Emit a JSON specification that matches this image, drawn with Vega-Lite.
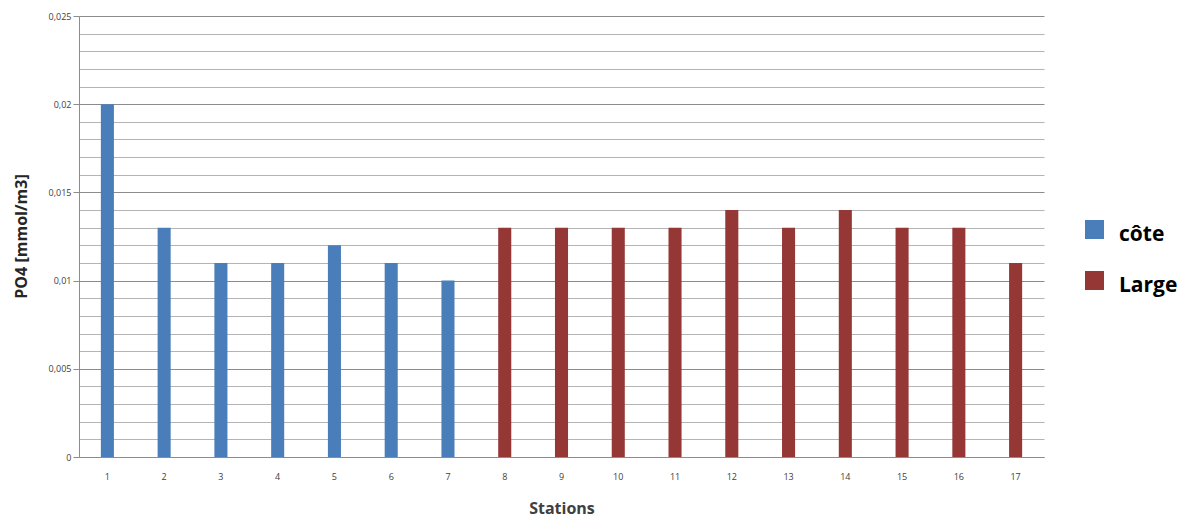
{
  "$schema": "https://vega.github.io/schema/vega-lite/v6.json",
  "width": 965,
  "height": 441,
  "autosize": {"type": "none"},
  "padding": {"left": 79, "top": 16, "right": 143, "bottom": 64},
  "background": "white",
  "data": {
    "values": [
      {"station": 1, "po4": 0.020, "zone": "côte"},
      {"station": 2, "po4": 0.013, "zone": "côte"},
      {"station": 3, "po4": 0.011, "zone": "côte"},
      {"station": 4, "po4": 0.011, "zone": "côte"},
      {"station": 5, "po4": 0.012, "zone": "côte"},
      {"station": 6, "po4": 0.011, "zone": "côte"},
      {"station": 7, "po4": 0.010, "zone": "côte"},
      {"station": 8, "po4": 0.013, "zone": "Large"},
      {"station": 9, "po4": 0.013, "zone": "Large"},
      {"station": 10, "po4": 0.013, "zone": "Large"},
      {"station": 11, "po4": 0.013, "zone": "Large"},
      {"station": 12, "po4": 0.014, "zone": "Large"},
      {"station": 13, "po4": 0.013, "zone": "Large"},
      {"station": 14, "po4": 0.014, "zone": "Large"},
      {"station": 15, "po4": 0.013, "zone": "Large"},
      {"station": 16, "po4": 0.013, "zone": "Large"},
      {"station": 17, "po4": 0.011, "zone": "Large"}
    ]
  },
  "mark": {"type": "bar"},
  "encoding": {
    "x": {
      "field": "station",
      "type": "ordinal",
      "scale": {"paddingInner": 0.77, "paddingOuter": 0.385},
      "axis": {
        "title": "Stations",
        "labelAngle": 0,
        "ticks": false,
        "labelPadding": 15,
        "labelFontSize": 9,
        "labelColor": "#404040",
        "labelFont": "Open Sans",
        "domainColor": "#8c8c8c",
        "titleFont": "Open Sans",
        "titleFontSize": 16,
        "titleFontWeight": "bold",
        "titleColor": "#404040",
        "titleY": 51,
        "titleBaseline": "middle"
      }
    },
    "y": {
      "field": "po4",
      "type": "quantitative",
      "scale": {"domain": [0, 0.025], "nice": false},
      "axis": {
        "title": "PO4 [mmol/m3]",
        "values": [0, 0.001, 0.002, 0.003, 0.004, 0.005, 0.006, 0.007, 0.008, 0.009, 0.010, 0.011, 0.012, 0.013, 0.014, 0.015, 0.016, 0.017, 0.018, 0.019, 0.020, 0.021, 0.022, 0.023, 0.024, 0.025],
        "labelExpr": "abs(datum.value*200 - round(datum.value*200)) < 1e-6 ? replace(format(datum.value, '~g'), '.', ',') : ''",
        "labelOverlap": false,
        "labelFontSize": 9,
        "labelColor": "#404040",
        "labelFont": "Open Sans",
        "labelPadding": 2,
        "tickSize": {"condition": {"test": "abs(datum.value*200 - round(datum.value*200)) < 1e-6", "value": 6}, "value": 0},
        "tickColor": "#8c8c8c",
        "domainColor": "#8c8c8c",
        "grid": true,
        "gridColor": {"condition": {"test": "abs(datum.value*200 - round(datum.value*200)) < 1e-6", "value": "#8c8c8c"}, "value": "#b4b4b4"},
        "gridWidth": 1,
        "titleFont": "Open Sans",
        "titleFontSize": 16,
        "titleFontWeight": "bold",
        "titleColor": "#262626",
        "titleX": -58,
        "titleY": 220,
        "titleAngle": -90,
        "titleBaseline": "middle"
      }
    },
    "color": {
      "field": "zone",
      "type": "nominal",
      "scale": {"domain": ["côte", "Large"], "range": ["#4a7ebb", "#953735"]},
      "legend": {
        "title": null,
        "orient": "none",
        "legendX": 1005,
        "legendY": 203,
        "symbolType": "square",
        "symbolSize": 361,
        "symbolStrokeWidth": 0,
        "symbolOpacity": 1,
        "labelFont": "Open Sans",
        "labelFontSize": 21,
        "labelFontWeight": "bold",
        "labelColor": "#000000",
        "labelOffset": 14,
        "rowPadding": 25,
        "padding": 0,
        "labelLimit": 300,
        "encode": {"labels": {"update": {"dy": {"value": 5}}}}
      }
    }
  },
  "config": {
    "view": {"stroke": null}
  }
}
